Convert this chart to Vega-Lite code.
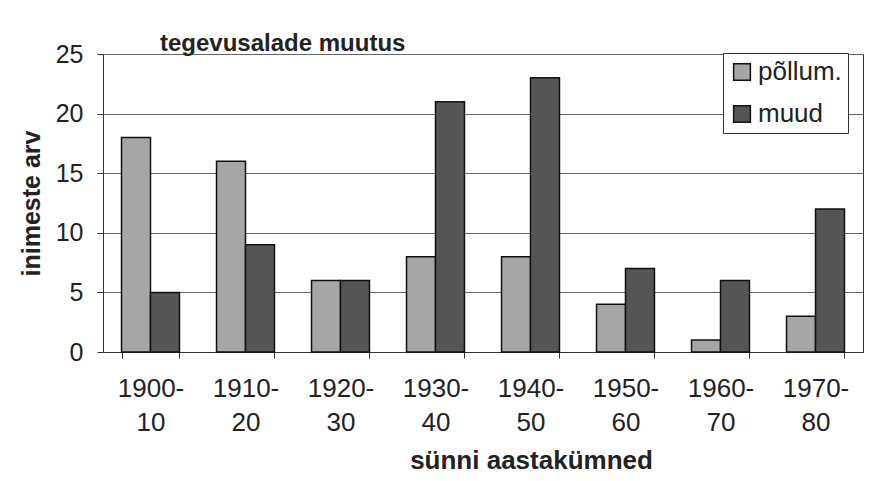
{
  "$schema": "https://vega.github.io/schema/vega-lite/v6.json",
  "width": 760,
  "height": 298,
  "autosize": {"type": "none"},
  "padding": {"left": 103, "top": 54, "right": 6, "bottom": 129},
  "background": "white",
  "title": {
    "text": "tegevusalade muutus",
    "anchor": "start",
    "frame": "group",
    "dx": 57,
    "offset": -14,
    "font": "Liberation Sans",
    "fontSize": 24,
    "fontWeight": "bold",
    "color": "#222"
  },
  "config": {
    "view": {"stroke": "#333", "strokeWidth": 1},
    "font": "Liberation Sans"
  },
  "data": {
    "values": [
      {"period": "1900-10", "group": "põllum.", "value": 18},
      {"period": "1900-10", "group": "muud", "value": 5},
      {"period": "1910-20", "group": "põllum.", "value": 16},
      {"period": "1910-20", "group": "muud", "value": 9},
      {"period": "1920-30", "group": "põllum.", "value": 6},
      {"period": "1920-30", "group": "muud", "value": 6},
      {"period": "1930-40", "group": "põllum.", "value": 8},
      {"period": "1930-40", "group": "muud", "value": 21},
      {"period": "1940-50", "group": "põllum.", "value": 8},
      {"period": "1940-50", "group": "muud", "value": 23},
      {"period": "1950-60", "group": "põllum.", "value": 4},
      {"period": "1950-60", "group": "muud", "value": 7},
      {"period": "1960-70", "group": "põllum.", "value": 1},
      {"period": "1960-70", "group": "muud", "value": 6},
      {"period": "1970-80", "group": "põllum.", "value": 3},
      {"period": "1970-80", "group": "muud", "value": 12}
    ]
  },
  "mark": {"type": "bar", "stroke": "#111", "strokeWidth": 1.5},
  "encoding": {
    "x": {
      "field": "period",
      "type": "nominal",
      "sort": null,
      "scale": {"paddingInner": 0.39, "paddingOuter": 0.195},
      "axis": {
        "title": "sünni aastakümned",
        "titleFontSize": 26,
        "titleFontWeight": "bold",
        "titleColor": "#222",
        "titlePadding": 12,
        "titleX": 428,
        "labelAngle": 0,
        "labelFontSize": 26,
        "labelColor": "#222",
        "labelPadding": 17,
        "labelLineHeight": 34,
        "labelExpr": "datum.label ? [split(datum.label,'-')[0] + '-', split(datum.label,'-')[1]] : ''",
        "tickBand": "extent",
        "tickSize": 6,
        "tickColor": "#333",
        "domainColor": "#333",
        "grid": false
      }
    },
    "xOffset": {"field": "group", "type": "nominal", "sort": ["põllum.", "muud"]},
    "y": {
      "field": "value",
      "type": "quantitative",
      "scale": {"domain": [0, 25]},
      "axis": {
        "title": "inimeste arv",
        "titleFontSize": 25,
        "titleFontWeight": "bold",
        "titleColor": "#222",
        "titlePadding": 11,
        "values": [0, 5, 10, 15, 20, 25],
        "labelFontSize": 25,
        "labelColor": "#222",
        "labelPadding": 14,
        "tickSize": 6,
        "tickColor": "#333",
        "domainColor": "#333",
        "gridColor": "#666",
        "gridWidth": 1
      }
    },
    "color": {
      "field": "group",
      "type": "nominal",
      "sort": ["põllum.", "muud"],
      "scale": {"domain": ["põllum.", "muud"], "range": ["#a6a6a6", "#555555"]},
      "legend": {
        "title": null,
        "orient": "none",
        "legendX": 620,
        "legendY": -1,
        "direction": "vertical",
        "symbolType": "square",
        "symbolSize": 280,
        "symbolStrokeColor": "#111",
        "symbolStrokeWidth": 1.5,
        "labelFontSize": 26,
        "labelColor": "#222",
        "labelOffset": 3,
        "rowPadding": 16,
        "padding": 6,
        "strokeColor": "#333",
        "fillColor": "white"
      }
    }
  }
}
